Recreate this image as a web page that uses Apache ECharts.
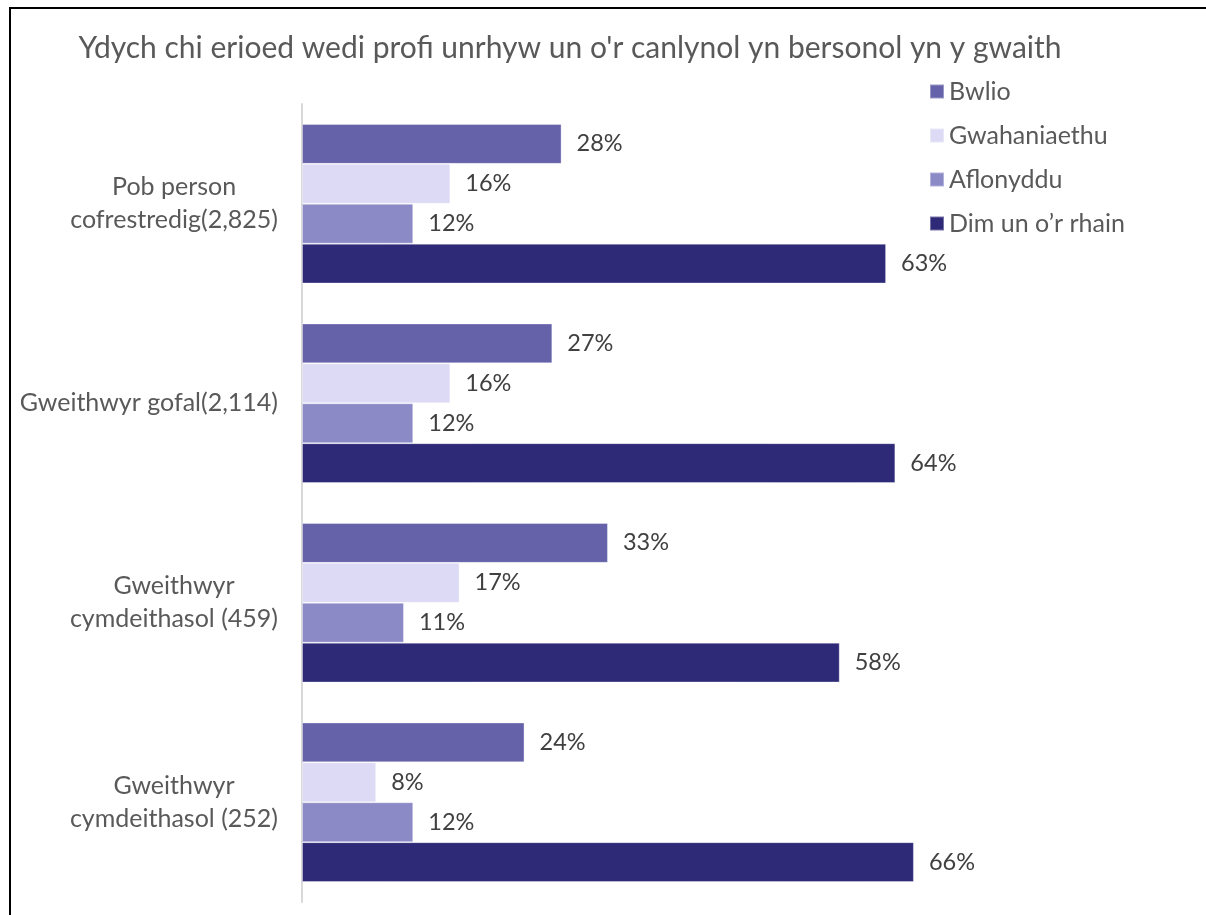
<!DOCTYPE html>
<html lang="cy">
<head>
    <meta charset="UTF-8">
    <title>Ydych chi erioed wedi profi</title>
    <script src="https://cdn.jsdelivr.net/npm/echarts@6/dist/echarts.min.js"></script>
    <style>
        html, body { margin: 0; padding: 0; background: #fff; }
        #container { width: 1206px; height: 915px; }
    </style>
</head>
<body>
<div id="container"></div>
<script type="text/javascript">
// data
var categories = ['Pob person\ncofrestredig(2,825)', 'Gweithwyr gofal(2,114)', 'Gweithwyr\ncymdeithasol (459)', 'Gweithwyr\ncymdeithasol (252)'];
var seriesNames = ['Bwlio', 'Gwahaniaethu', 'Aflonyddu', 'Dim un o\u2019r rhain'];
var bwlio = [28, 27, 33, 24];
var gwahaniaethu = [16, 16, 17, 8];
var aflonyddu = [12, 12, 11, 12];
var dimUn = [63, 64, 58, 66];
var colors = ['#6562a9', '#dcdaf4', '#8b89c6', '#2e2a78'];

var font = 'Lato, "Open Sans", sans-serif';
var dom = document.getElementById('container');
var myChart = echarts.init(dom);

var allValues = [bwlio, gwahaniaethu, aflonyddu, dimUn];
var series = [];
for (var i = 0; i < seriesNames.length; i++) {
    series.push({
        name: seriesNames[i],
        type: 'bar',
        barGap: '0%',
        barCategoryGap: '20%',
        itemStyle: { color: colors[i], borderColor: 'rgba(255,255,255,0.35)', borderWidth: 1 },
        label: {
            show: true,
            position: 'right',
            distance: 15,
            formatter: '{c}%',
            color: '#404040',
            fontSize: 23.5,
            fontFamily: font
        },
        data: allValues[i]
    });
}

var option = {
    animation: false,
    color: colors,
    title: {
        text: 'Ydych chi erioed wedi profi unrhyw un o\'r canlynol yn bersonol yn y gwaith',
        left: 565,
        top: 28,
        textAlign: 'center',
        textStyle: { color: '#595959', fontSize: 30, fontWeight: 'normal', fontFamily: font }
    },
    legend: {
        orient: 'vertical',
        left: 924,
        top: 74,
        itemWidth: 14,
        itemHeight: 14,
        itemGap: 19,
        icon: 'rect',
        textStyle: { color: '#595959', fontSize: 25, fontFamily: font, lineHeight: 24 },
        data: seriesNames
    },
    grid: { left: 302, right: 255, top: 104, bottom: 13, containLabel: false },
    xAxis: {
        type: 'value',
        min: 0,
        max: 70,
        show: false
    },
    yAxis: {
        type: 'category',
        inverse: true,
        data: categories,
        axisTick: { show: false },
        axisLine: { lineStyle: { color: '#d9d9d9', width: 2 } },
        axisLabel: {
            margin: 24,
            color: '#595959',
            fontSize: 25,
            fontFamily: font,
            formatter: function (v) {
                return v.split('\n').map(function (s) { return '{c|' + s + '}'; }).join('\n');
            },
            rich: {
                c: { align: 'center', color: '#595959', fontSize: 25, fontFamily: font, lineHeight: 33 }
            }
        }
    },
    graphic: [
        { type: 'line', shape: { x1: 9, y1: 8, x2: 1206, y2: 8 }, style: { stroke: '#000', lineWidth: 2 } },
        { type: 'line', shape: { x1: 10, y1: 7, x2: 10, y2: 915 }, style: { stroke: '#000', lineWidth: 2 } }
    ],
    series: series
};

if (option && typeof option === 'object') {
    myChart.setOption(option, true);
}
</script>
</body>
</html>
